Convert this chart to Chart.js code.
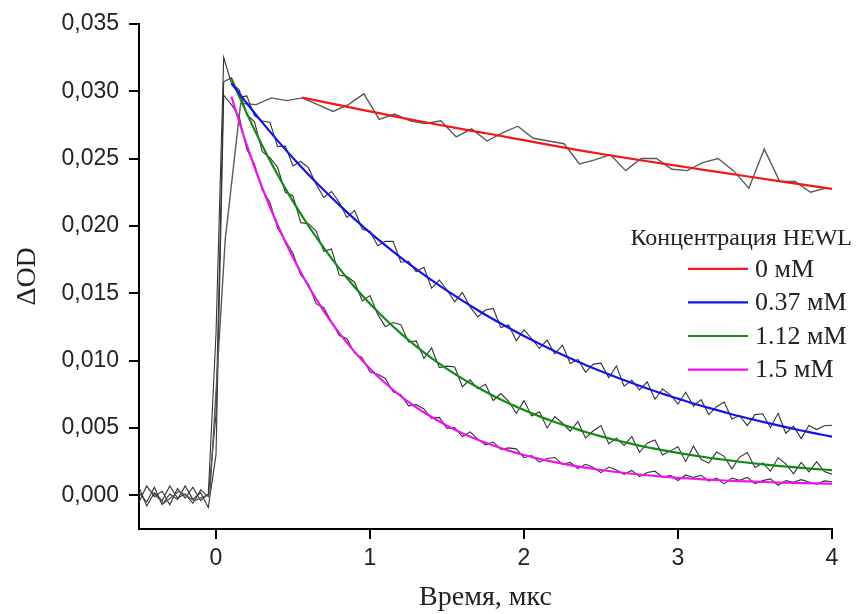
<!DOCTYPE html>
<html>
<head>
<meta charset="utf-8">
<script src="https://cdn.jsdelivr.net/npm/chart.js@4.4.1/dist/chart.umd.min.js"></script>
<style>
  body { margin: 0; background: #fff; }
  #wrap { width: 857px; height: 614px; }
</style>
</head>
<body>
<div id="wrap"><canvas id="grafico" width="857" height="614"></canvas></div>
<script>
"use strict";
// Подписи и оси
const legendTitle = "Концентрация HEWL";
const seriesLabels = ["0 мМ", "0.37 мМ", "1.12 мМ", "1.5 мМ"];
const seriesColors = ["#f01818", "#1414e6", "#138a13", "#ee14ee"];
const xTitle = "Время, мкс";
const yTitle = "ΔOD";
const xTicks = [0, 1, 2, 3, 4];
const yTicks = [0, 0.005, 0.010, 0.015, 0.020, 0.025, 0.030, 0.035];

// Сырые данные 0 мМ: t = -0.44 + 0.1*i
const raw0Start = -0.44, raw0Step = 0.1;
const raw0 = [
  0.0005, -0.0006, 0.0003, -0.0004, 0.0001, 0.0190, 0.0291, 0.0290, 0.0295, 0.0293,
  0.0295, 0.0290, 0.0285, 0.0290, 0.0298, 0.0279, 0.0283, 0.0278, 0.0276, 0.0278,
  0.0266, 0.0272, 0.0263, 0.0269, 0.0274, 0.0265, 0.0263, 0.0261, 0.0246, 0.0249,
  0.0253, 0.0241, 0.0250, 0.0250, 0.0242, 0.0241, 0.0247, 0.0250, 0.0241, 0.0228,
  0.0257, 0.0233, 0.0233, 0.0225, 0.0228
];

// Сырые данные остальных: t = -0.5 + 0.05*i
const rawStart = -0.5, rawStep = 0.05;
const raw037 = [
  0.0006, -0.0008, 0.0002, -0.0004, 0.0007, -0.0002, 0.0001, -0.0006, 0.0004, -0.0001,
  0.0060, 0.0307,
  0.03099, 0.02954, 0.02965, 0.02818, 0.02778, 0.02770, 0.02588, 0.02593, 0.02444, 0.02478,
  0.02432, 0.02309, 0.02211, 0.02255, 0.02176, 0.02063, 0.02115, 0.01975, 0.01960, 0.01852,
  0.01885, 0.01885, 0.01730, 0.01737, 0.01659, 0.01693, 0.01537, 0.01598, 0.01524, 0.01437,
  0.01505, 0.01399, 0.01324, 0.01375, 0.01387, 0.01245, 0.01264, 0.01148, 0.01228, 0.01164,
  0.01090, 0.01152, 0.01050, 0.01114, 0.00978, 0.01008, 0.00913, 0.00974, 0.00981, 0.00873,
  0.00961, 0.00810, 0.00854, 0.00783, 0.00843, 0.00713, 0.00789, 0.00746, 0.00678, 0.00765,
  0.00662, 0.00710, 0.00599, 0.00658, 0.00693, 0.00567, 0.00592, 0.00518, 0.00599, 0.00605,
  0.00502, 0.00609, 0.00461, 0.00513, 0.00421, 0.00519, 0.00488, 0.00516, 0.00520
];
const raw112 = [
  -0.0005, 0.0007, -0.0001, 0.0003, -0.0007, 0.0005, -0.0002, 0.0006, -0.0004, 0.0001,
  0.0120, 0.0325,
  0.03060, 0.03012, 0.02825, 0.02773, 0.02552, 0.02506, 0.02435, 0.02249, 0.02222, 0.02024,
  0.02016, 0.01961, 0.01811, 0.01829, 0.01635, 0.01624, 0.01582, 0.01443, 0.01482, 0.01343,
  0.01252, 0.01283, 0.01267, 0.01138, 0.01146, 0.01016, 0.01094, 0.00948, 0.00959, 0.00952,
  0.00806, 0.00857, 0.00790, 0.00824, 0.00704, 0.00755, 0.00698, 0.00607, 0.00703, 0.00589,
  0.00621, 0.00500, 0.00584, 0.00535, 0.00476, 0.00548, 0.00425, 0.00479, 0.00518, 0.00383,
  0.00424, 0.00370, 0.00437, 0.00319, 0.00387, 0.00411, 0.00300, 0.00330, 0.00360, 0.00250,
  0.00366, 0.00267, 0.00239, 0.00321, 0.00289, 0.00196, 0.00284, 0.00317, 0.00206, 0.00240,
  0.00179, 0.00279, 0.00234, 0.00159, 0.00244, 0.00174, 0.00250, 0.00176, 0.00157
];
const raw15 = [
  0.0002, -0.0005, 0.0006, -0.0007, 0.0001, -0.0003, 0.0007, -0.0003, 0.0002, -0.0009,
  0.0030, 0.0297,
  0.02900, 0.02814, 0.02569, 0.02456, 0.02268, 0.02176, 0.01982, 0.01892, 0.01795, 0.01636,
  0.01569, 0.01423, 0.01393, 0.01289, 0.01186, 0.01163, 0.01055, 0.01021, 0.00915, 0.00899,
  0.00867, 0.00768, 0.00747, 0.00664, 0.00673, 0.00641, 0.00571, 0.00578, 0.00497, 0.00503,
  0.00436, 0.00471, 0.00417, 0.00375, 0.00395, 0.00340, 0.00352, 0.00345, 0.00279, 0.00295,
  0.00246, 0.00273, 0.00281, 0.00230, 0.00244, 0.00199, 0.00230, 0.00206, 0.00168, 0.00210,
  0.00188, 0.00156, 0.00185, 0.00139, 0.00169, 0.00179, 0.00134, 0.00149, 0.00110, 0.00151,
  0.00133, 0.00149, 0.00106, 0.00128, 0.00085, 0.00128, 0.00111, 0.00133, 0.00086, 0.00109,
  0.00122, 0.00075, 0.00109, 0.00097, 0.00116, 0.00099, 0.00083, 0.00107, 0.00101
];

// Аппроксимация: t = 0.1 + 0.1*i
const fitStart = 0.1, fitStep = 0.1;
const fit037 = [
  0.03059, 0.02910, 0.02768, 0.02633, 0.02504, 0.02382, 0.02266, 0.02156, 0.02050, 0.01950,
  0.01855, 0.01765, 0.01679, 0.01597, 0.01519, 0.01445, 0.01374, 0.01307, 0.01244, 0.01183,
  0.01125, 0.01070, 0.01018, 0.00968, 0.00921, 0.00876, 0.00834, 0.00793, 0.00754, 0.00718,
  0.00682, 0.00649, 0.00618, 0.00587, 0.00559, 0.00532, 0.00506, 0.00481, 0.00458, 0.00435
];
const fit112 = [
  0.03095, 0.02835, 0.02597, 0.02380, 0.02182, 0.02001, 0.01836, 0.01685, 0.01547, 0.01422,
  0.01307, 0.01202, 0.01106, 0.01019, 0.00939, 0.00866, 0.00800, 0.00739, 0.00683, 0.00633,
  0.00586, 0.00544, 0.00506, 0.00470, 0.00438, 0.00409, 0.00382, 0.00357, 0.00335, 0.00315,
  0.00296, 0.00279, 0.00264, 0.00249, 0.00236, 0.00224, 0.00214, 0.00204, 0.00195, 0.00187
];
const fit15 = [
  0.02960, 0.02599, 0.02283, 0.02007, 0.01765, 0.01554, 0.01368, 0.01206, 0.01065, 0.00940,
  0.00832, 0.00737, 0.00653, 0.00581, 0.00517, 0.00461, 0.00412, 0.00370, 0.00332, 0.00299,
  0.00271, 0.00246, 0.00224, 0.00205, 0.00188, 0.00173, 0.00160, 0.00149, 0.00139, 0.00130,
  0.00123, 0.00116, 0.00110, 0.00106, 0.00101, 0.00097, 0.00094, 0.00091, 0.00088, 0.00086
];
const fit0Times = [0.56, 0.8, 1.0, 1.2, 1.4, 1.6, 1.8, 2.0, 2.2, 2.4, 2.6, 2.8, 3.0, 3.2, 3.4, 3.6, 3.8, 4.0];
const fit0 = [
  0.02952, 0.02896, 0.02850, 0.02804, 0.02760, 0.02718, 0.02678, 0.02636, 0.02594,
  0.02553, 0.02516, 0.02480, 0.02445, 0.02410, 0.02376, 0.02342, 0.02308, 0.02275
];

function aPuntos(valores, inicio, paso) {
  return valores.map((v, i) => ({ x: +(inicio + i * paso).toFixed(3), y: v }));
}

function serieAjuste(datos, color) {
  return {
    data: datos, borderColor: color, borderWidth: 2.2, pointRadius: 0,
    cubicInterpolationMode: "monotone", order: 1
  };
}
function serieCruda(datos, color, ancho) {
  return {
    data: datos, borderColor: color, borderWidth: ancho, pointRadius: 0,
    tension: 0, order: 2
  };
}

const datasets = [
  serieAjuste(fit0Times.map((t, i) => ({ x: t, y: fit0[i] })), seriesColors[0]),
  serieAjuste(aPuntos(fit037, fitStart, fitStep), seriesColors[1]),
  serieAjuste(aPuntos(fit112, fitStart, fitStep), seriesColors[2]),
  serieAjuste(aPuntos(fit15, fitStart, fitStep), seriesColors[3]),
  serieCruda(aPuntos(raw0, raw0Start, raw0Step), "#5a5a5a", 1.4),
  serieCruda(aPuntos(raw037, rawStart, rawStep), "#333333", 1.1),
  serieCruda(aPuntos(raw112, rawStart, rawStep), "#333333", 1.1),
  serieCruda(aPuntos(raw15, rawStart, rawStep), "#333333", 1.1)
];

// Leyenda dibujada a mano dentro del área
const leyendaPlugin = {
  id: "leyenda",
  afterDraw(chart) {
    const ctx = chart.ctx;
    const area = chart.chartArea;
    ctx.save();
    ctx.fillStyle = "#222";
    ctx.textBaseline = "middle";
    ctx.font = '24px "Liberation Serif", "Times New Roman", serif';
    ctx.textAlign = "right";
    ctx.fillText(legendTitle, area.right + 20, area.top + 215);
    ctx.font = '26px "Liberation Serif", "Times New Roman", serif';
    ctx.textAlign = "left";
    seriesLabels.forEach((etiqueta, i) => {
      const y = area.top + 245 + i * 33.6;
      ctx.strokeStyle = seriesColors[i];
      ctx.lineWidth = 2.2;
      ctx.beginPath();
      ctx.moveTo(area.right - 144, y);
      ctx.lineTo(area.right - 84, y);
      ctx.stroke();
      ctx.fillText(etiqueta, area.right - 77, y + 1);
    });
    ctx.restore();
  }
};

const ejeComun = {
  border: { display: true, color: "#000", width: 2 },
  grid: { drawOnChartArea: false, drawTicks: true, tickLength: 10, color: "#000", lineWidth: 2 }
};

const ctx = document.getElementById("grafico");
new Chart(ctx, {
  type: "line",
  data: { datasets },
  options: {
    responsive: false,
    animation: false,
    devicePixelRatio: 1,
    layout: { padding: { top: 21, right: 25, bottom: 0, left: 0 } },
    plugins: { legend: { display: false }, tooltip: { enabled: false } },
    scales: {
      x: {
        ...ejeComun,
        type: "linear",
        min: -0.5,
        max: 4,
        afterBuildTicks: (s) => { s.ticks = xTicks.map(v => ({ value: v })); },
        afterFit: (s) => { s.height = 85; },
        ticks: {
          color: "#222", padding: 6,
          font: { family: '"Liberation Sans", Arial, sans-serif', size: 23 },
          callback: (v) => String(v)
        },
        title: {
          display: true, text: xTitle, color: "#222",
          font: { family: '"Liberation Serif", "Times New Roman", serif', size: 28 },
          padding: { top: 0, bottom: 0 }
        }
      },
      y: {
        ...ejeComun,
        type: "linear",
        min: -0.0025,
        max: 0.035,
        afterBuildTicks: (s) => { s.ticks = yTicks.map(v => ({ value: v })); },
        afterFit: (s) => { s.width = 139; },
        ticks: {
          color: "#222", padding: 10,
          font: { family: '"Liberation Sans", Arial, sans-serif', size: 23 },
          callback: (v) => v.toFixed(3).replace(".", ",")
        },
        title: {
          display: true, text: yTitle, color: "#222",
          font: { family: '"Liberation Serif", "Times New Roman", serif', size: 28 },
          padding: { top: 11, bottom: 0 }
        }
      }
    }
  },
  plugins: [leyendaPlugin]
});
</script>
</body>
</html>
